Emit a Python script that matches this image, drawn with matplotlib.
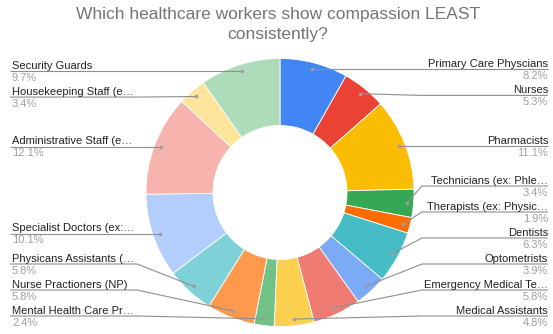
import matplotlib.pyplot as plt
import numpy as np

plt.rcParams['font.family'] = ['Liberation Sans', 'DejaVu Sans']

title = 'Which healthcare workers show compassion LEAST\nconsistently?'

# slices in clockwise order starting at 12 o'clock
labels = ['Primary Care Physcians', 'Nurses', 'Pharmacists', 'Technicians (ex: Phle\u2026',
          'Therapists (ex: Physic\u2026', 'Dentists', 'Optometrists', 'Emergency Medical Te\u2026',
          'Medical Assistants', 'Mental Health Care Pr\u2026', 'Nurse Practioners (NP)',
          'Physicans Assistants (\u2026', 'Specialist Doctors (ex:\u2026', 'Administrative Staff (e\u2026',
          'Housekeeping Staff (e\u2026', 'Security Guards']
shares = [8.2, 5.3, 11.1, 3.4, 1.9, 6.3, 3.9, 5.8, 4.8, 2.4, 5.8, 5.8, 10.1, 12.1, 3.4, 9.7]
colors = ['#4285F4', '#EA4335', '#FBBC04', '#34A853', '#FF6D01', '#46BDC6', '#7BAAF7', '#F07B72',
          '#FCD04F', '#71C287', '#FF994D', '#7ED1D7', '#B3CEFB', '#F7B4AE', '#FDE49B', '#AEDCBA']

W, H = 553, 334
cx, cy = 280, 141.5
R = 134
gap = 26          # min vertical distance between labels
y_floor = 18      # lowest label line

fig = plt.figure(figsize=(W / 100, H / 100), dpi=100)
ax = fig.add_axes([0, 0, 1, 1])

ax.pie(shares, colors=colors, startangle=90, counterclock=False, center=(cx, cy), radius=R,
       wedgeprops=dict(width=R / 2, edgecolor='white', linewidth=0.6))
ax.set_xlim(0, W)
ax.set_ylim(0, H)
ax.set_aspect('equal')
ax.axis('off')

# anchor dot for each slice near the outer edge
frac = np.array(shares) / sum(shares)
mid = np.cumsum(frac) - frac / 2
theta = mid * 2 * np.pi
r_dot = R * 0.95
dot_x = cx + r_dot * np.sin(theta)
dot_y = cy + r_dot * np.cos(theta)


def spread(ys):
    # ys sorted from top to bottom (descending); keep labels apart and above the floor
    out = list(ys)
    for i in range(1, len(out)):
        out[i] = min(out[i], out[i - 1] - gap)
    out[-1] = max(out[-1], y_floor)
    for i in range(len(out) - 2, -1, -1):
        out[i] = max(out[i], out[i + 1] + gap)
    return out


line_col = '#8f8f8f'
for side in ('right', 'left'):
    idx = [i for i in range(len(shares)) if (mid[i] < 0.5) == (side == 'right')]
    idx.sort(key=lambda i: -dot_y[i])
    ys = spread([dot_y[i] for i in idx])
    for i, y in zip(idx, ys):
        if side == 'right':
            elbow = cx + R + 8
            x_end, ha = 548, 'right'
        else:
            elbow = cx - R - 9
            x_end, ha = 10, 'left'
        ax.plot([dot_x[i], elbow, x_end], [dot_y[i], y, y], color=line_col, lw=0.8,
                solid_capstyle='butt')
        ax.plot(dot_x[i], dot_y[i], 'o', ms=2.6, color='#9e9e9e', mec='none')
        tx = x_end if side == 'right' else 12
        ax.text(tx, y + 2.5, labels[i], ha=ha, va='baseline', fontsize=8, color='#222222')
        ax.text(tx, y - 1.5, f'{shares[i]:.1f}%', ha=ha, va='top', fontsize=8, color='#a0a0a0')

ax.text(278, 309.5, title, ha='center', va='center', fontsize=12.5, color='#757575',
        linespacing=1.5)

fig.savefig('out.png', dpi=100)
